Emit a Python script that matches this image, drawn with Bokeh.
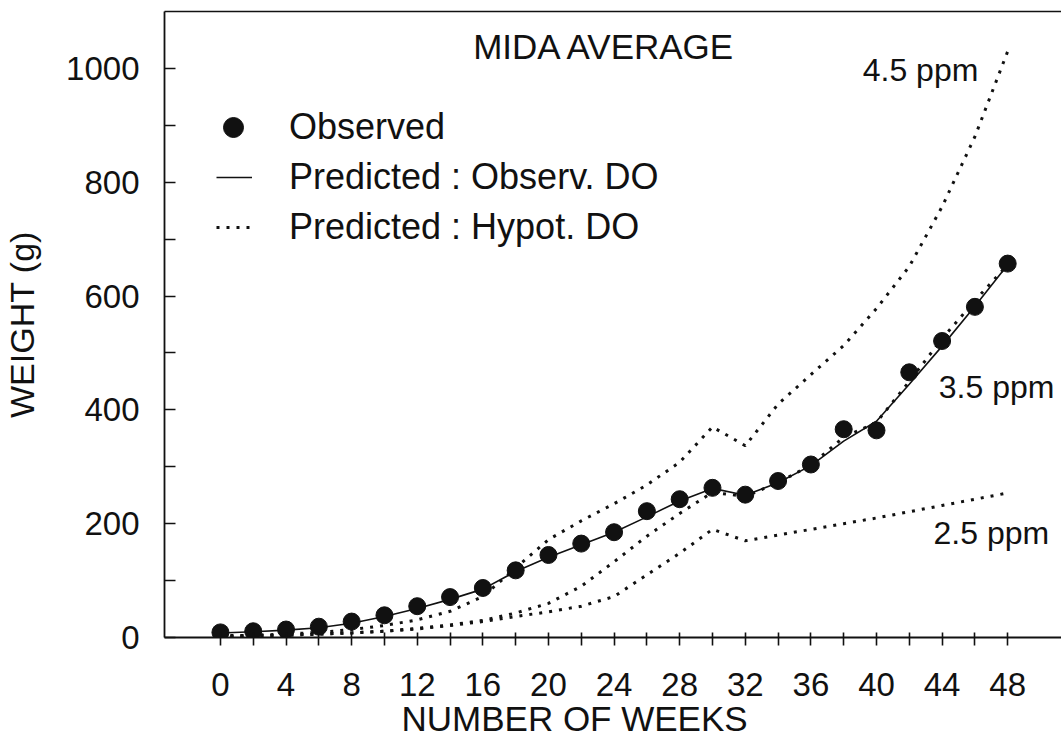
from bokeh.plotting import figure
from bokeh.models import (Range1d, FixedTicker, LinearAxis, Legend, LegendItem, Label, Title)
from bokeh.embed import file_html
from bokeh.resources import INLINE

# ---------------- data ----------------
weeks = [0, 2, 4, 6, 8, 10, 12, 14, 16, 18, 20, 22, 24, 26, 28, 30, 32, 34, 36, 38, 40, 42, 44, 46, 48]
observed = [9, 11, 14, 19, 28, 39, 55, 71, 87, 118, 145, 165, 185, 222, 243, 263, 251, 275, 304, 366, 364, 466, 521, 581, 657]
pred_observ_do = [8, 10, 13, 17, 25, 37, 51, 67, 85, 116, 141, 163, 185, 212, 240, 262, 250, 272, 302, 345, 380, 445, 512, 582, 655]
hypot_45 = [3, 4, 6, 9, 14, 21, 31, 46, 72, 122, 172, 205, 235, 268, 308, 370, 337, 410, 462, 513, 578, 652, 757, 880, 1030]
hypot_35 = [2, 3, 4, 6, 8, 11, 16, 22, 30, 43, 60, 90, 133, 178, 218, 255, 248, 272, 303, 352, 378, 450, 525, 592, 655]
hypot_25 = [2, 3, 4, 6, 8, 11, 15, 21, 28, 37, 45, 55, 72, 110, 148, 190, 170, 180, 190, 200, 210, 221, 232, 243, 254]

x_major = [0, 4, 8, 12, 16, 20, 24, 28, 32, 36, 40, 44, 48]
x_minor = [2, 6, 10, 14, 18, 22, 26, 30, 34, 38, 42, 46]
y_major = [0, 200, 400, 600, 800, 1000]
y_minor = [100, 300, 500, 700, 900]

FONT = "Liberation Sans"
INK = "#111111"

p = figure(width=1061, height=739, output_backend="svg", toolbar_location=None,
           x_range=Range1d(-3.41, 51.28), y_range=Range1d(0, 1100),
           min_border_left=163, min_border_right=0, min_border_top=11, min_border_bottom=102)
p.outline_line_color = None
p.grid.visible = False
p.background_fill_color = "white"
p.border_fill_color = "white"

# dotted hypothetical DO lines
dot_kw = dict(line_color=INK, line_width=3, line_dash="3 7", line_cap="butt")
r45 = p.line(weeks, hypot_45, **dot_kw)
r35 = p.line(weeks, hypot_35, **dot_kw)
r25 = p.line(weeks, hypot_25, **dot_kw)
# solid predicted line
rpred = p.line(weeks, pred_observ_do, line_color=INK, line_width=1.6)
# observed points
robs = p.scatter(weeks, observed, size=17, marker="circle", fill_color=INK, line_color=INK)

# axes
xa = p.xaxis[0]
xa.ticker = FixedTicker(ticks=x_major, minor_ticks=x_minor)
ya = p.yaxis[0]
ya.ticker = FixedTicker(ticks=y_major, minor_ticks=y_minor)
ya.axis_label = "WEIGHT (g)"

for ax in (xa, ya):
    ax.axis_line_color = INK
    ax.axis_line_width = 1.8
    ax.major_tick_line_color = INK
    ax.minor_tick_line_color = INK
    ax.major_tick_line_width = 1.6
    ax.minor_tick_line_width = 1.6
    ax.major_label_text_font = FONT
    ax.major_label_text_font_size = "33px"
    ax.major_label_text_color = INK
    ax.axis_label_text_font = FONT
    ax.axis_label_text_font_size = "34px"
    ax.axis_label_text_font_style = "normal"
    ax.axis_label_text_color = INK

xa.major_tick_in = 5
xa.major_tick_out = 8
xa.minor_tick_in = 5
xa.minor_tick_out = 8
xa.major_label_standoff = 27

ya.major_tick_in = 11
ya.major_tick_out = 0
ya.minor_tick_in = 11
ya.minor_tick_out = 0
ya.major_label_standoff = 25
ya.axis_label_standoff = 22

# top border line
top = LinearAxis(ticker=FixedTicker(ticks=[]), major_label_text_font_size="0px",
                 major_tick_line_color=None, minor_tick_line_color=None,
                 axis_line_color=INK, axis_line_width=1.6)
p.add_layout(top, "above")

# x-axis title, as a left-aligned title under the axis (offset so it sits where the original has it)
xtitle = Title(text="NUMBER OF WEEKS", align="left", offset=237, standoff=0,
               text_font=FONT, text_font_size="35px", text_font_style="normal",
               text_color=INK, vertical_align="top")
p.add_layout(xtitle, "below")

# legends
leg1 = Legend(items=[LegendItem(label="Observed", renderers=[robs])],
              location=(44, 485), glyph_width=50, glyph_height=50, label_standoff=31)
leg2 = Legend(items=[LegendItem(label="Predicted : Observ. DO", renderers=[rpred]),
                     LegendItem(label="Predicted : Hypot. DO", renderers=[r35])],
              location=(52, 389), glyph_width=36, glyph_height=40, spacing=8, label_standoff=37)
for lg in (leg1, leg2):
    lg.padding = 0
    lg.margin = 0
    lg.border_line_color = None
    lg.background_fill_alpha = 0
    lg.label_text_font = FONT
    lg.label_text_font_size = "36px"
    lg.label_text_color = INK
    lg.label_height = 40
    p.add_layout(lg)

# text annotations
lab_kw = dict(text_font=FONT, text_color=INK, text_baseline="middle", text_align="left")
p.add_layout(Label(x=15.41, y=1039, text="MIDA AVERAGE", text_font_size="35px", **lab_kw))
p.add_layout(Label(x=39.16, y=998, text="4.5 ppm", text_font_size="32px", **lab_kw))
p.add_layout(Label(x=43.8, y=440, text="3.5 ppm", text_font_size="32px", **lab_kw))
p.add_layout(Label(x=43.48, y=183, text="2.5 ppm", text_font_size="32px", **lab_kw))

open("out.html", "w").write(file_html(p, INLINE))
